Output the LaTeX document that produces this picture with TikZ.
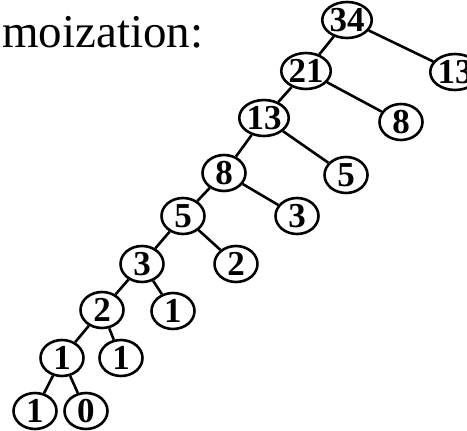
\documentclass[tikz,border=0pt]{standalone}
\usepackage{fontspec}
\setmainfont{Liberation Serif}
\usetikzlibrary{shapes.geometric}

\begin{document}
\begin{tikzpicture}[x=1pt,y=-1pt,
      fib/.style={draw,ellipse,line width=2.6pt,minimum width=43pt,minimum height=36pt,
        inner sep=0pt,font=\fontsize{35}{35}\selectfont\bfseries},
      edge/.style={line width=2.6pt}
    ]
      \clip (0,0) rectangle (467,431);
      \node[anchor=base west,inner sep=0pt,font=\fontsize{47}{50}\selectfont] (title) at (2,47) {moization:};
      % left spine of the call tree
      \node[fib] (f9) at (347,20) {34};
      \node[fib] (f8) at (306,71) {21};
      \node[fib] (f7) at (264,118) {13};
      \node[fib] (f6) at (224,173) {8};
      \node[fib] (f5) at (183,216) {5};
      \node[fib] (f4) at (142,264) {3};
      \node[fib] (f3) at (102,310) {2};
      \node[fib] (f2) at (62,358) {1};
      \node[fib] (f1) at (35,411) {1};
      % looked-up values on the right
      \node[fib] (f7b) at (455,72) {13};
      \node[fib] (f6b) at (401,122) {8};
      \node[fib] (f5b) at (346,175) {5};
      \node[fib] (f4b) at (297,216) {3};
      \node[fib] (f3b) at (236,264) {2};
      \node[fib] (f2b) at (173,311) {1};
      \node[fib] (f1b) at (121,358) {1};
      \node[fib] (f0) at (86,411) {0};
      \foreach \a/\b/\c in {f9/f8/f7b,f8/f7/f6b,f7/f6/f5b,f6/f5/f4b,f5/f4/f3b,f4/f3/f2b,f3/f2/f1b,f2/f1/f0}{
        \draw[edge] (\a) -- (\b);
        \draw[edge] (\a) -- (\c);
      }
    \end{tikzpicture}
\end{document}
